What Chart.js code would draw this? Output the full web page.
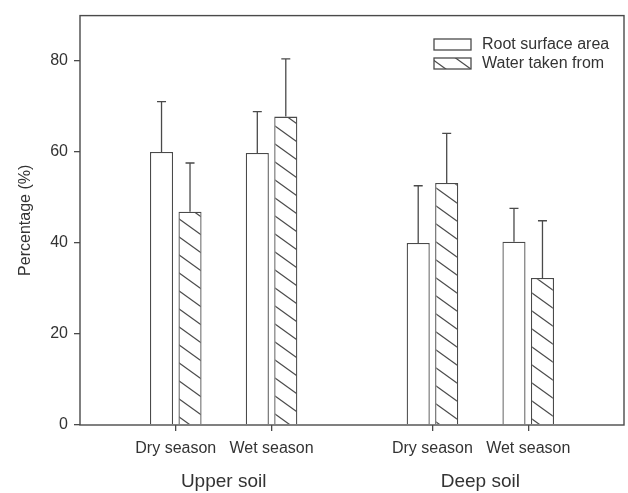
<!DOCTYPE html>
<html>
<head>
<meta charset="utf-8">
<script src="https://cdn.jsdelivr.net/npm/chart.js@4.4.1/dist/chart.umd.min.js"></script>
<style>
  html, body { margin: 0; padding: 0; background: #fff; }
  #wrap { width: 628px; height: 493px; }
</style>
</head>
<body>
<div id="wrap"><canvas id="rootChart"></canvas></div>
<script>
// Data
const categories = ['Dry season', 'Wet season', 'Dry season', 'Wet season'];
const categoryPos = [1, 2, 3.68, 4.68];
const groups = ['Upper soil', 'Deep soil'];
const rootArea = [60, 59.8, 40, 40.3];
const rootAreaErr = [11.1, 9.1, 12.6, 7.3];
const waterTaken = [46.9, 67.8, 53.2, 32.3];
const waterTakenErr = [10.7, 12.7, 10.9, 12.6];
const yTicks = [0, 20, 40, 60, 80];

const ink = '#4a4a4a';
const textColor = '#333';
const fontFamily = '"Liberation Sans", Arial, sans-serif';

// diagonal hatch pattern
function makeHatch() {
    const w = 25, h = 18;
    const c = document.createElement('canvas');
    c.width = w; c.height = h;
    const g = c.getContext('2d');
    g.fillStyle = '#fff';
    g.fillRect(0, 0, w, h);
    g.strokeStyle = ink;
    g.lineWidth = 1.2;
    [[0, 0], [w, 0], [-w, 0], [0, h], [0, -h]].forEach(([dx, dy]) => {
        g.beginPath();
        g.moveTo(dx, dy);
        g.lineTo(dx + w, dy + h);
        g.stroke();
    });
    return g.createPattern(c, 'repeat');
}

const ctx = document.getElementById('rootChart').getContext('2d');
const hatch = makeHatch();

const toPoints = (vals) => vals.map((v, i) => ({ x: categoryPos[i], y: v }));

// error bars, box, group labels and legend
const extrasPlugin = {
    id: 'extras',
    afterDatasetsDraw(chart) {
        const c = chart.ctx;
        const yScale = chart.scales.y;
        const xScale = chart.scales.x;
        const area = chart.chartArea;
        const errs = [rootAreaErr, waterTakenErr];
        const vals = [rootArea, waterTaken];

        c.save();
        c.strokeStyle = ink;
        c.lineWidth = 1.3;
        chart.data.datasets.forEach((ds, di) => {
            chart.getDatasetMeta(di).data.forEach((bar, i) => {
                const yTop = yScale.getPixelForValue(vals[di][i] + errs[di][i]);
                c.beginPath();
                c.moveTo(bar.x, bar.y);
                c.lineTo(bar.x, yTop);
                c.moveTo(bar.x - 4.5, yTop);
                c.lineTo(bar.x + 4.5, yTop);
                c.stroke();
            });
        });

        // frame
        c.lineWidth = 1.4;
        c.strokeRect(area.left, area.top, area.right - area.left, area.bottom - area.top);

        // group labels
        c.fillStyle = textColor;
        c.font = '19px ' + fontFamily;
        c.textAlign = 'center';
        c.textBaseline = 'middle';
        groups.forEach((gname, gi) => {
            const mid = (categoryPos[gi * 2] + categoryPos[gi * 2 + 1]) / 2;
            c.fillText(gname, xScale.getPixelForValue(mid), 482);
        });

        // legend
        const lx = area.right - 190;
        const rows = [
            { label: chart.data.datasets[0].label, fill: '#fff', y: 39 },
            { label: chart.data.datasets[1].label, fill: hatch, y: 58 }
        ];
        c.font = '16px ' + fontFamily;
        c.textAlign = 'left';
        rows.forEach(r => {
            c.fillStyle = r.fill;
            c.fillRect(lx, r.y, 37, 11);
            c.lineWidth = 1.3;
            c.strokeRect(lx, r.y, 37, 11);
            c.fillStyle = textColor;
            c.fillText(r.label, lx + 48, r.y + 6);
        });
        c.restore();
    }
};

const rootChart = new Chart(ctx, {
    type: 'bar',
    data: {
        datasets: [{
            label: 'Root surface area',
            data: toPoints(rootArea),
            backgroundColor: '#fff',
            borderColor: ink,
            borderWidth: 1.3,
            categoryPercentage: 0.595,
            barPercentage: 0.81
        }, {
            label: 'Water taken from',
            data: toPoints(waterTaken),
            backgroundColor: hatch,
            borderColor: ink,
            borderWidth: 1.3,
            categoryPercentage: 0.595,
            barPercentage: 0.81
        }]
    },
    options: {
        responsive: true,
        maintainAspectRatio: false,
        animation: false,
        layout: { padding: { top: 12, right: 4, left: 0, bottom: 0 } },
        plugins: {
            legend: { display: false },
            tooltip: { enabled: false }
        },
        scales: {
            x: {
                type: 'linear',
                min: 0,
                max: 5.68,
                offset: false,
                afterBuildTicks: (scale) => { scale.ticks = categoryPos.map(v => ({ value: v })); },
                afterFit: (scale) => { scale.height = 68; },
                border: { display: false },
                grid: { offset: false, drawOnChartArea: false, drawTicks: true, tickLength: 6, color: ink, lineWidth: 1.3 },
                ticks: {
                    autoSkip: false,
                    maxRotation: 0,
                    padding: 8,
                    color: textColor,
                    font: { family: fontFamily, size: 16 },
                    callback: (value) => categories[categoryPos.indexOf(value)]
                }
            },
            y: {
                min: 0,
                max: 90,
                afterBuildTicks: (scale) => { scale.ticks = yTicks.map(v => ({ value: v })); },
                afterFit: (scale) => { scale.width = 80; },
                border: { display: false },
                grid: { drawOnChartArea: false, drawTicks: true, tickLength: 6, color: ink, lineWidth: 1.3 },
                ticks: {
                    padding: 6,
                    color: textColor,
                    font: { family: fontFamily, size: 16 }
                },
                title: {
                    display: true,
                    text: 'Percentage (%)',
                    color: textColor,
                    font: { family: fontFamily, size: 16 },
                    padding: { top: 16 }
                }
            }
        }
    },
    plugins: [extrasPlugin]
});
</script>
</body>
</html>
